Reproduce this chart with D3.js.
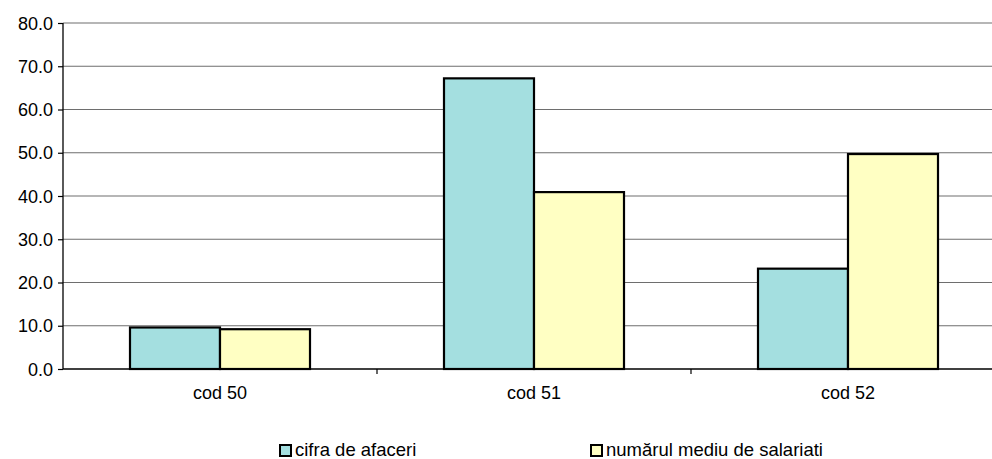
<!DOCTYPE html>
<html>
<head>
<meta charset="utf-8">
<script src="https://cdn.jsdelivr.net/npm/d3@7"></script>
<style>
html,body{margin:0;padding:0;background:#fff;}
svg{display:block;font-family:"Liberation Sans",Arial,sans-serif;}
</style>
</head>
<body>
<svg id="chart" width="992" height="459"></svg>
<script>
const categories = ["cod 50", "cod 51", "cod 52"];
const seriesNames = ["cifra de afaceri", "numărul mediu de salariati"];
const cifraDeAfaceri = [9.6, 67.2, 23.2];
const numarulMediu = [9.2, 40.9, 49.7];
const yTicks = [0, 10, 20, 30, 40, 50, 60, 70, 80];
const colors = ["#a4dfe0", "#ffffc3"];

(function () {
const series = [cifraDeAfaceri, numarulMediu];
const svg = d3.select("#chart");
const mLeft = 63, mRight = 1005, mTop = 23, mBottom = 369;

const x = d3.scaleBand().domain(categories).range([mLeft, mRight]);
const y = d3.scaleLinear().domain([0, 80]).range([mBottom, mTop]);
const barW = x.bandwidth() * 90 / 314;
const inner = d3.scaleBand().domain([0, 1]).range([0, 2 * barW]);

// gridlines
svg.append("g").selectAll("line").data(yTicks.filter(d => d > 0)).join("line")
  .attr("x1", mLeft).attr("x2", mRight)
  .attr("y1", d => y(d)).attr("y2", d => y(d))
  .attr("stroke", "#6e6e6e").attr("stroke-width", 1.2);

// y axis
const yAxis = d3.axisLeft(y).tickValues(yTicks).tickFormat(d3.format(".1f")).tickSize(5).tickPadding(5);
const gy = svg.append("g").attr("transform", `translate(${mLeft},0)`).call(yAxis);
gy.select(".domain").attr("stroke", "#000").attr("stroke-width", 1.3).attr("d", `M0,${mTop}V${mBottom}`);
gy.selectAll(".tick line").attr("stroke", "#000").attr("stroke-width", 1.2);
gy.selectAll(".tick text").attr("font-size", "18px").attr("fill", "#000")
  .attr("font-family", "Liberation Sans, Arial, sans-serif").attr("dy", "0.34em");

// bars
const groups = svg.append("g").selectAll("g").data(categories).join("g")
  .attr("transform", d => `translate(${x(d) + (x.bandwidth() - 2 * barW) / 2},0)`);
groups.selectAll("rect").data((c, i) => series.map((s, k) => ({k, v: s[i]}))).join("rect")
  .attr("x", d => inner(d.k)).attr("width", barW)
  .attr("y", d => y(d.v)).attr("height", d => y(0) - y(d.v))
  .attr("fill", d => colors[d.k]).attr("stroke", "#000").attr("stroke-width", 2.2);

// x axis
const xAxis = d3.axisBottom(x).tickSize(0).tickPadding(14);
const gx = svg.append("g").attr("transform", `translate(0,${mBottom})`).call(xAxis);
gx.select(".domain").attr("stroke", "#000").attr("stroke-width", 1.3).attr("d", `M${mLeft},0H${mRight}`);
gx.selectAll(".tick text").attr("font-size", "18px").attr("fill", "#000")
  .attr("font-family", "Liberation Sans, Arial, sans-serif").attr("dy", "0.9em");
// category separator ticks
svg.append("g").selectAll("line").data(categories.slice(1)).join("line")
  .attr("x1", d => x(d)).attr("x2", d => x(d))
  .attr("y1", mBottom).attr("y2", mBottom + 5)
  .attr("stroke", "#000").attr("stroke-width", 1.2);

// legend
const legendX = [279, 590];
const lg = svg.append("g").selectAll("g").data(seriesNames).join("g")
  .attr("transform", (d, i) => `translate(${legendX[i]},445)`);
lg.append("rect").attr("x", 1).attr("y", 0).attr("width", 11).attr("height", 11)
  .attr("fill", (d, i) => colors[i]).attr("stroke", "#000").attr("stroke-width", 2);
lg.append("text").attr("x", 16).attr("y", 11).attr("font-size", "18.5px").attr("fill", "#000")
  .text(d => d);
})();
</script>
</body>
</html>
